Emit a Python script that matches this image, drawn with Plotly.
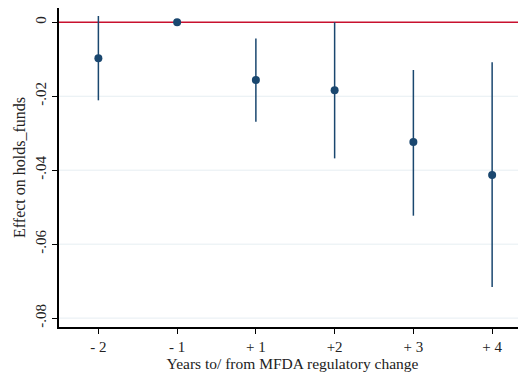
import plotly.graph_objects as go

tick_labels = ["- 2", "- 1", "+ 1", "+2", "+ 3", "+ 4"]
estimates = [-0.0097, 0.0, -0.0156, -0.0184, -0.0324, -0.0413]
ci_upper = [0.0017, 0.0, -0.0044, 0.0000, -0.0129, -0.0108]
ci_lower = [-0.0211, 0.0, -0.0269, -0.0368, -0.0523, -0.0716]
y_ticks = [0, -0.02, -0.04, -0.06, -0.08]
y_tick_text = ["0", "-.02", "-.04", "-.06", "-.08"]

xpos = list(range(len(tick_labels)))
navy = "#1a476f"
font = "Liberation Serif"

fig = go.Figure()
for yv in y_ticks:
    if yv == 0:
        fig.add_hline(y=yv, line=dict(color="#c8102e", width=1.5), layer="below")
    else:
        fig.add_hline(y=yv, line=dict(color="#e6eef2", width=1), layer="below")

fig.add_trace(go.Scatter(
    x=xpos, y=estimates, mode="markers",
    marker=dict(color=navy, size=8),
    error_y=dict(type="data", symmetric=False,
                 array=[u - e for u, e in zip(ci_upper, estimates)],
                 arrayminus=[e - l for e, l in zip(estimates, ci_lower)],
                 color=navy, thickness=1.5, width=0),
    showlegend=False, cliponaxis=False,
))

fig.update_layout(
    width=518, height=371,
    margin=dict(l=51, r=0, t=0, b=52),
    paper_bgcolor="white", plot_bgcolor="white",
    font=dict(family=font, size=15, color="#222"),
    xaxis=dict(
        range=[-0.5, 5.43], tickmode="array", tickvals=xpos, ticktext=tick_labels,
        showgrid=False, zeroline=False, showline=True, linecolor="black", linewidth=1.5,
        ticks="outside", ticklen=5, tickcolor="black", tickwidth=1,
        title=dict(text="Years to/ from MFDA regulatory change", font=dict(size=15.5), standoff=4),
        tickfont=dict(size=15),
    ),
    yaxis=dict(
        range=[-0.0824, 0.00386], tickmode="array", tickvals=y_ticks, ticktext=y_tick_text,
        tickangle=-90, showgrid=False, zeroline=False,
        showline=True, linecolor="black", linewidth=1.5,
        ticks="outside", ticklen=5, tickcolor="black", tickwidth=1,
        title=dict(text="Effect on holds_funds", font=dict(size=16), standoff=4),
        tickfont=dict(size=15),
    ),
)
fig.write_html("out.html")
